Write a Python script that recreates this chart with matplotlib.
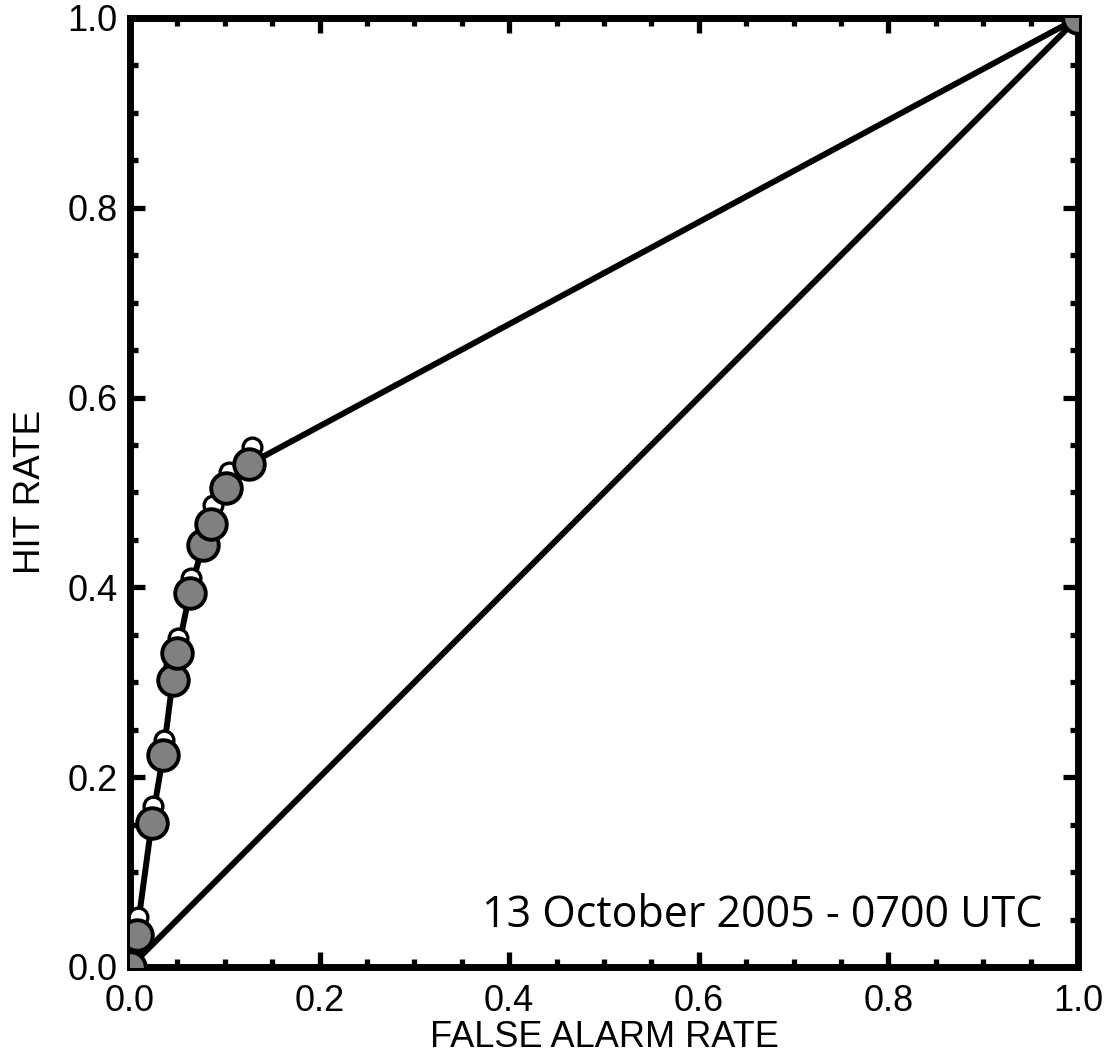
import numpy as np
import matplotlib.pyplot as plt
from matplotlib.ticker import MultipleLocator

# ROC points (grey filled) and companion points (small open)
far = [0.0, 0.007, 0.023, 0.035, 0.045, 0.050, 0.063, 0.077, 0.086, 0.101, 0.126, 1.0]
hit = [0.0, 0.034, 0.152, 0.223, 0.302, 0.331, 0.394, 0.445, 0.467, 0.505, 0.530, 1.0]

far_open = [0.001, 0.008, 0.024, 0.036, 0.046, 0.051, 0.064, 0.080, 0.088, 0.104, 0.129, 1.0]
hit_open = [0.012, 0.053, 0.170, 0.239, 0.317, 0.347, 0.410, 0.462, 0.487, 0.522, 0.548, 1.0]

diag = [0.0, 1.0]
title_txt = "13 October 2005 - 0700 UTC"

plt.rcParams['font.family'] = ['Liberation Sans', 'DejaVu Sans']

fig = plt.figure(figsize=(11.08, 10.56), dpi=100)
ax = fig.add_axes([0.1173, 0.0843, 0.8556, 0.8987])

ax.plot(diag, diag, color='black', lw=4.3, zorder=2, solid_capstyle='butt')
ax.plot(far, hit, color='black', lw=4.3, zorder=2)
ax.plot(far_open, hit_open, 'o', ms=13.5, mfc='white', mec='black', mew=2.4, ls='none', zorder=3)
ax.plot(far, hit, 'o', ms=22, mfc='#808080', mec='black', mew=2.8, ls='none', zorder=4)

ax.set_xlim(0, 1)
ax.set_ylim(0, 1)
ax.xaxis.set_major_locator(MultipleLocator(0.2))
ax.yaxis.set_major_locator(MultipleLocator(0.2))
ax.xaxis.set_minor_locator(MultipleLocator(0.05))
ax.yaxis.set_minor_locator(MultipleLocator(0.05))
ax.xaxis.set_major_formatter(plt.FormatStrFormatter('%.1f'))
ax.yaxis.set_major_formatter(plt.FormatStrFormatter('%.1f'))
ax.tick_params(which='both', direction='in', top=True, right=True, width=3.8, labelsize=26)
ax.tick_params(which='major', length=11)
ax.tick_params(which='minor', length=6)
ax.tick_params(axis='x', which='major', pad=12)
ax.tick_params(axis='y', which='major', pad=9)
for s in ax.spines.values():
    s.set_linewidth(5)

ax.set_xlabel('FALSE ALARM RATE', fontsize=26, labelpad=1)
ax.set_ylabel('HIT RATE', fontsize=26.5, labelpad=14)

ax.text(0.962, 0.042, title_txt, transform=ax.transAxes, ha='right', va='baseline',
        fontsize=31, family=['Open Sans', 'DejaVu Sans'])

fig.savefig('out.png', dpi=100)
